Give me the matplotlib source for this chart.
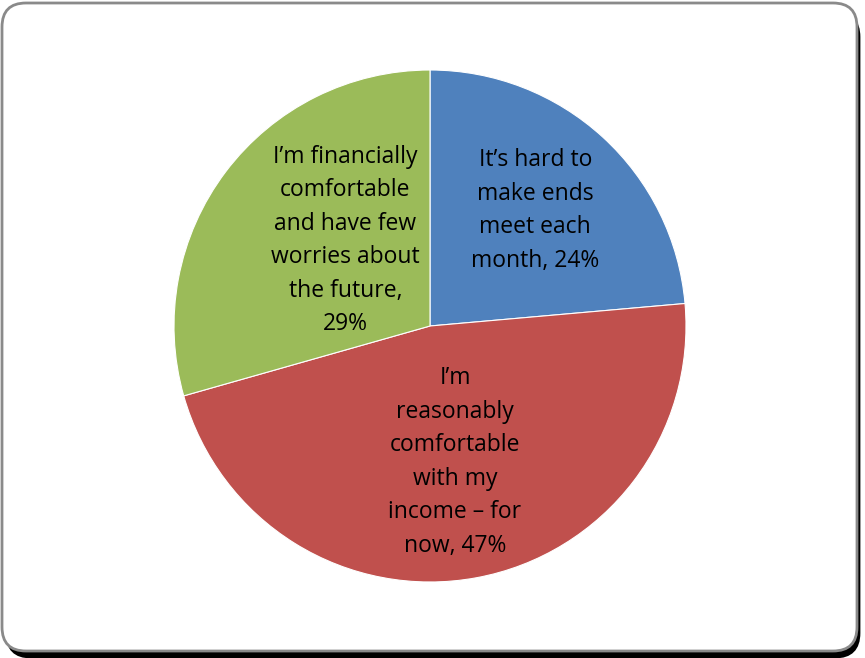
import numpy as np
import matplotlib.pyplot as plt
from matplotlib.patches import FancyBboxPatch
from matplotlib.transforms import IdentityTransform

labels = ["It\u2019s hard to\nmake ends\nmeet each\nmonth, 24%",
          "I\u2019m\nreasonably\ncomfortable\nwith my\nincome \u2013 for\nnow, 47%",
          "I\u2019m financially\ncomfortable\nand have few\nworries about\nthe future,\n29%"]
shares = [23.6, 47.0, 29.4]
colors = ["#4F81BD", "#C0504D", "#9BBB59"]
# label placement: fraction of radius, angle tweak in degrees
label_dist = [0.61, 0.54, 0.47]
label_turn = [0.1, 0.0, -8.2]

fig = plt.figure(figsize=(8.65, 6.58), dpi=100)

# rounded frame with a black drop shadow (pixel coords)
shadow = FancyBboxPatch((7, 1), 852, 644, boxstyle="round,pad=0,rounding_size=24",
                        transform=IdentityTransform(), facecolor="black",
                        edgecolor="black", linewidth=2, zorder=-2)
frame = FancyBboxPatch((2, 7), 855, 648, boxstyle="round,pad=0,rounding_size=24",
                       transform=IdentityTransform(), facecolor="white",
                       edgecolor="#8a8a8a", linewidth=2, zorder=-1)
fig.patches.extend([shadow, frame])

ax = fig.add_axes([(430 - 256) / 865, (658 - 326 - 256) / 658, 512 / 865, 512 / 658])
ax.set_zorder(1)
wedges, texts = ax.pie(shares, colors=colors, startangle=90, counterclock=False,
                       labels=labels, labeldistance=0.58,
                       wedgeprops=dict(edgecolor="white", linewidth=0.8),
                       textprops=dict(fontsize=16.5, family="Open Sans",
                                      va="center", linespacing=1.53))
for w, t, d, turn in zip(wedges, texts, label_dist, label_turn):
    ang = np.deg2rad((w.theta1 + w.theta2) / 2 + turn)
    t.set_position((d * np.cos(ang), d * np.sin(ang)))
    t.set_horizontalalignment("center")
    t.set_multialignment("center")
ax.set_xlim(-1, 1)
ax.set_ylim(-1, 1)
ax.set_aspect("equal")
ax.axis("off")

fig.savefig("out.png", dpi=100)
